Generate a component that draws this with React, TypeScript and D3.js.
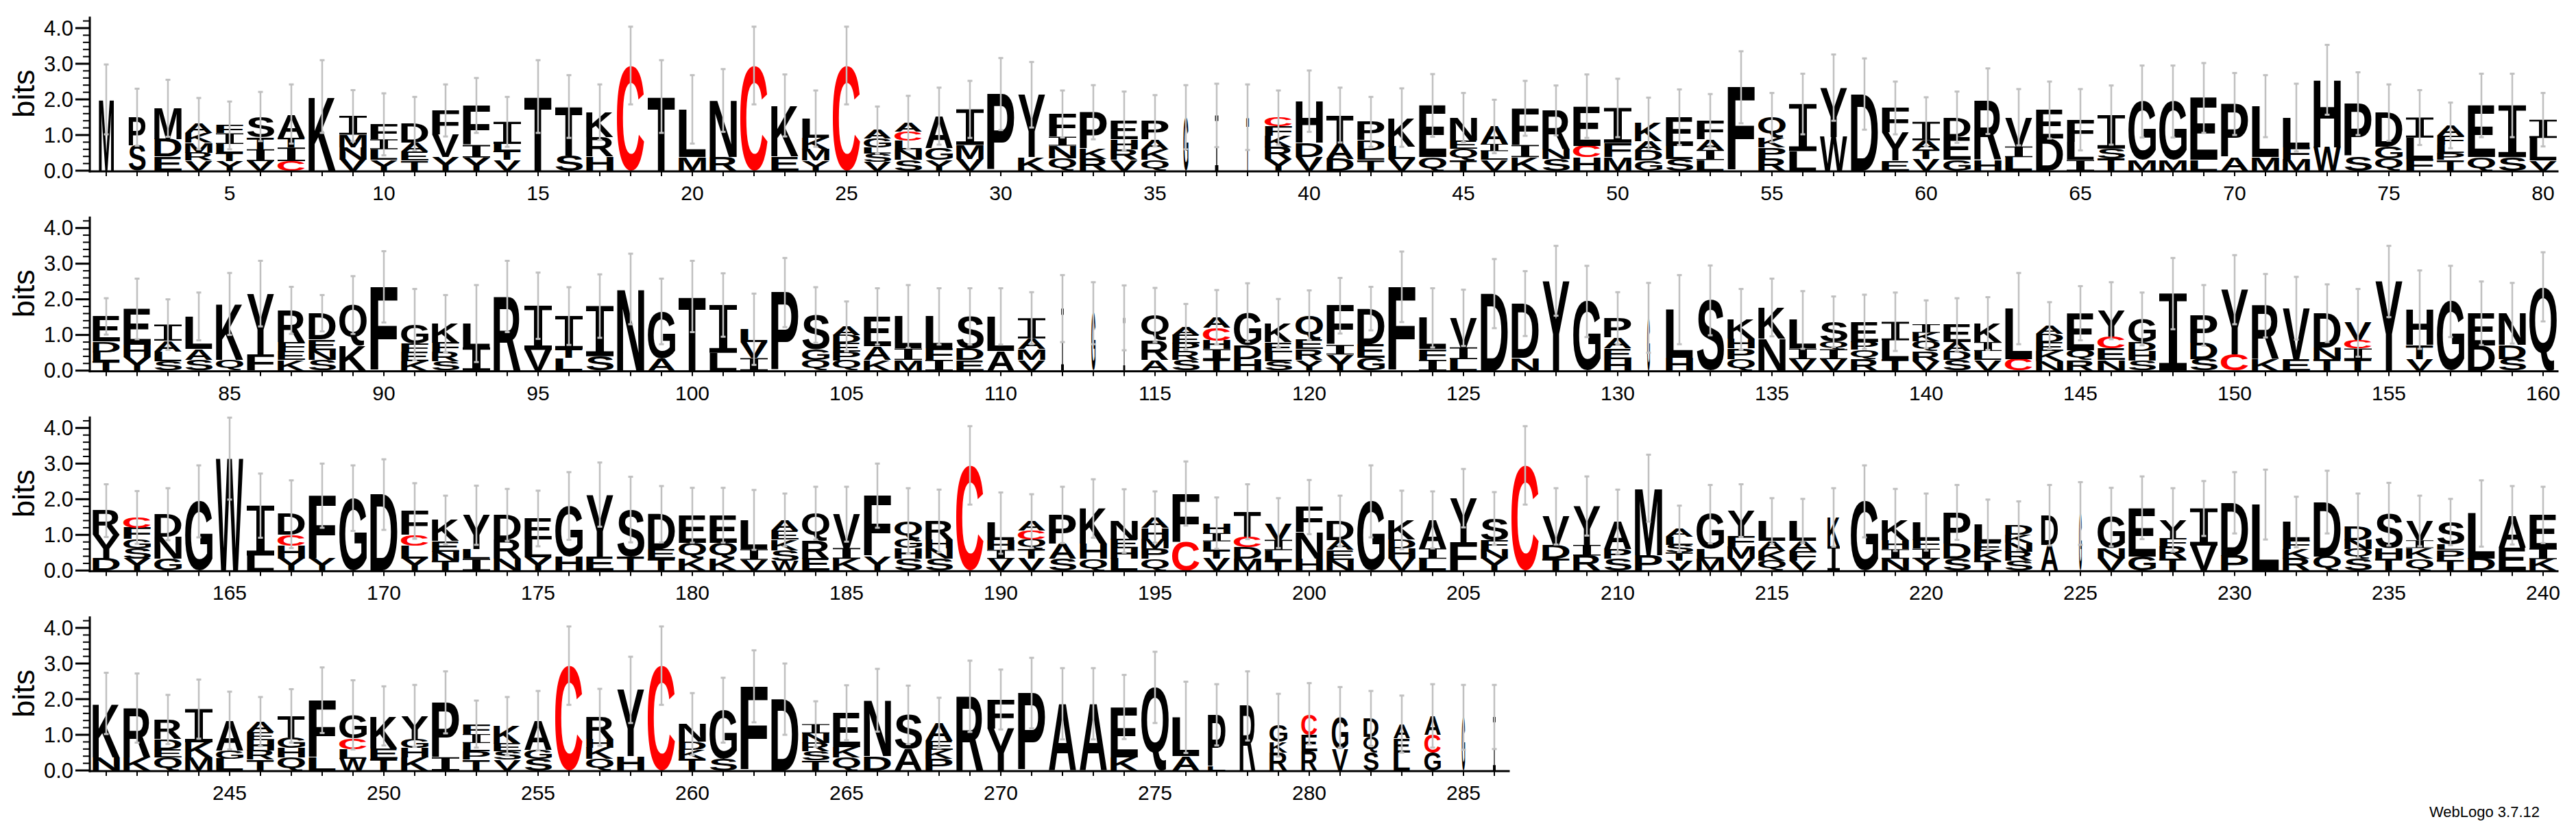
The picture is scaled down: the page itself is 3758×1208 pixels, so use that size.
import React, { useMemo } from "react";
import * as d3 from "d3";

// ---- data: stacks (bottom -> top, letter + bits) ----
const row1Stacks = [
"M2.0","S.7 P.8","E.4 D.48 M.87","V.28 R.22 M.28 K.27 A.27","Y.27 T.23 L.25 I.3 F.22",
"V.27 I.33 T.33 S.59","C.27 I.38 T.28 A.66","K2.08","V.31 N.35 M.35 I.53","Y.3 L.3 I.28 F.42",
"T.28 E.25 A.25 D.54","Y.38 V.63 F.68","Y.37 I.35 F1.11","V.3 T.25 L.2 I.62","T2.08",
"S.42 T1.38","H.4 R.55 K.69","C2.95","T2.08","M.38 L1.34",
"R.38 N1.59","C2.95","E.4 K1.43","Y.28 M.32 K.32 L.54","C2.95",
"V.25 S.23 L.17 G.25 A.24","S.3 N.3 L.25 C.25 A.25","Y.3 G.33 A.9","V.32 M.4 I1.0","P2.15",
"K.38 Y1.75","Q.35 N.35 I.25 F.64","R.33 K.29 P1.02","V.3 R.3 H.28 E.52","Q.3 K.3 A.28 P.52",
"G1.5","I1.55","T1.5","Y.32 R.34 K.32 F.27 C.24","V.38 D.4 H1.17",
"D.33 A.42 T.81","T.3 L.28 D.27 P.52","V.32 L.36 K.81","Q.38 E1.45","T.3 Q.32 E.23 N.64",
"V.3 L.25 I.2 A.49","K.38 I.34 F1.03","S.33 N.29 R1.07","H.38 C.32 E1.11","M.38 F.4 I.98",
"G.28 D.3 A.24 K.51","S.33 L.37 E.8","L.3 I.28 A.3 F.52","F2.34","R.35 P.3 K.28 Q.56",
"L.55 I1.32","W.95 Y1.38","D2.15","E.28 Y.78 F.7","V.32 T.28 A.25 I.52",
"G.3 E.65 D.55","H.3 R1.65","L.38 I.3 V.82","D.9 E.8","I.3 L.5 F.63",
"T.35 S.27 I.94","M.3 G1.64","M.3 G1.64","L.3 E1.74","A.38 P1.49",
"M.38 L1.43","M.33 F.33 L.83","W.66 H1.89","S.4 P1.48","Q.35 G.33 D.95",
"F.33 L.6 I.56","T.3 P.2 L.23 F.25 A.29","Q.38 E1.45","S.38 I1.45","V.28 L.64 I.51"
];
const row2Stacks = [
"T.26 L.26 D.3 E.7","Y.38 H.34 E1.01","S.26 L.28 A.3 I.45","S.3 A.3 L.92","Q.3 K1.57",
"F.45 Y1.71","K.3 E.25 F.25 R.89","S.3 N.27 E.3 D.74","K.7 Q1.14","F2.35",
"K.26 E.26 F.23 G.54","S.26 R.26 F.26 K.54","I.65 L.67","R2.08","V.58 I1.24",
"L.35 T.25 I.93","S.4 I1.41","N2.29","A.35 G1.31","T2.08",
"L.5 I1.34","I.35 V.45 L.36","P2.19","Q.3 G.3 S.96","Q.28 P.25 E.25 D.22 A.24",
"K.3 A.38 E.84","M.3 I.32 L.9","I.3 F.32 L.9","E.3 D.32 S.9","A.55 L.97",
"V.3 M.3 A.3 I.57","I1.74","G1.61","I1.48","A.3 R.55 Q.71",
"S.3 R.24 P.22 E.24 A.23","T.32 I.28 H.24 C.36 A.3","H.32 D.4 G.91","S.26 L.26 E.28 K.52","Y.3 R.3 E.27 Q.68",
"Y.45 I.27 F1.1","G.35 E.4 D.99","F2.35","I.3 F.3 L.88","L.32 I.33 V.83",
"D2.16","N.35 D1.53","Y2.52","G1.94","H.32 E.3 A.3 P.55",
"G1.48","H.36 L1.35","S1.97","Q.32 P.3 H.27 K.55","N.9 K.87",
"V.32 I.3 L.8","V.32 I.28 Q.22 S.55","R.32 Q.26 P.22 E.57","T.32 L.53 I.52","V.26 R.28 Q.28 K.24 I.24",
"S.3 D.25 A.25 E.49","V.3 L.25 I.25 K.52","C.32 L1.42","N.26 K.3 E.25 D.23 A.22","R.3 Q.28 E1.03",
"N.3 E.32 C.33 Y.73","S.28 H.28 D.24 G.65","I2.16","S.32 D.46 P.77","C.45 Y1.82",
"K.32 R1.5","E.32 V1.43","T.32 N.33 D.96","T.32 I.3 C.23 V.49","Y2.5",
"V.32 T.4 H.99","G1.94","D.7 E.91","S.32 D.4 N.89","Q2.35"
];
const row3Stacks = [
"D.33 Y.67 R.68","Y.33 S.29 G.26 F.32 C.29","G.33 N.62 D.63","G1.94","W3.14",
"L.42 I1.4","Y.33 H.37 C.3 D.58","Y.33 F1.77","G2.03","D2.13",
"Y.33 L.37 C.3 F.67","T.27 N.26 E.3 K.59","I.33 L.27 Y.95","N.33 R.55 D.68","Y.37 L.5 E.59",
"H.4 G1.41","E.4 Y1.73","T.4 S1.31","T.33 E.27 D.98","K.33 Q.45 E.77",
"K.33 Q.45 E.77","V.3 I.3 L.82","W.27 S.3 K.3 E.25 A.3","E.33 R.5 Q.78","K.33 I.3 V.95",
"Y.4 F1.7","S.33 H.3 G.25 Q.51","S.33 N.3 H.25 R.51","C2.95","V.33 I.25 H.27 L.48",
"V.33 T.27 Q.27 C.25 A.27","S.33 A.42 P.81","Q.33 H.42 K.99","L.33 H.29 E.26 N.51","Q.33 P.29 M.28 H.3 A.3",
"C.8 F1.36","V.33 T.22 L.27 I.23 H.28","M.33 D.32 C.3 T.7","T.27 L.3 I.29 V.47","H.33 N.74 F.71",
"N.3 E.28 A.27 D.54","G1.94","V.33 H.29 D.25 K.55","L.33 I.29 A.8","F.8 Y1.23",
"Y.33 N.27 F.25 S.61","C2.95","T.33 D.39 V.8","R.42 I.3 Y1.09","S.33 P.27 A.77",
"P.43 M1.88","V.27 T.23 S.22 L.23 A.22","M.33 L.27 G.98","V.33 M.34 F.3 Y.71","Q.27 K.28 A.28 L.56",
"V.27 F.28 A.28 L.56","I.68 K.81","G1.94","N.33 I.27 H.25 K.57","Y.33 I.28 F.25 L.5",
"S.33 D.42 P.88","T.27 K.28 E.25 L.49","S.27 R.26 N.25 K.22 D.26","A.72 D.83","G1.6",
"V.33 N.29 G.88","G.4 E1.36","T.33 R.33 F.24 Y.52","V.7 I1.04","P.42 D1.48",
"L1.85","R.33 K.27 F.25 L.51","Q.4 D1.52","S.33 Q.27 N.26 D.4","T.33 H.29 S.96",
"Q.33 K.3 I.22 V.54","T.3 P.28 L.14 S.64","D.33 L1.27","E.65 A.9","K.32 I.3 E.94"
];
const row4Stacks = [
"N.37 K1.51","K.37 R1.38","Q.37 E.23 D.28 R.55","M.37 K.42 I.93","L.33 G.22 A.85",
"T.3 R.26 H.29 E.22 A.3","Q.37 H.26 G.3 T.6","L.37 F1.6","W.33 L.27 C.3 G.66","T.33 E.29 K.91",
"K.37 H.26 G.26 Y.64","I.37 P1.54","T.3 P.23 L.24 I.25 F.28","V.3 S.23 E.22 K.49","S.33 G.25 A.82",
"C2.94","Q.33 K.31 H.24 R.61","H.4 Y1.86","C2.94","T.33 K.25 D.23 N.49",
"S.33 G1.36","F2.36","D2.0","T.28 S.25 R.24 N.27 I.26","Q.37 K.29 E.96",
"D.4 N1.57","A.6 S.96","P.33 K.25 E.25 A.5","R2.08","Y1.17 F.82",
"P2.17","A1.87","A1.87","K.37 E1.41","Q2.33",
"A.4 L1.09","L.12 P1.44","R1.81","R.5 K.3 G.47","R.53 E.47 C.59",
"V.6 G.89","S.5 Q.45 D.51","L.5 E.4 A.4","G.5 C.5 A.53","G1.49",
"I1.5"
];

// upper end of each error bar (bits)
const row1ErrTop = [2.98,2.3,2.55,2.04,1.94,2.21,2.42,3.1,2.26,2.17,2.07,2.42,2.6,2.07,3.1,2.68,2.42,4.04,3.1,2.68,2.85,4.04,2.7,2.25,4.04,1.8,2.1,2.33,2.52,3.16,3.05,2.25,2.4,2.22,2.12,2.4,2.44,2.42,2.25,2.81,2.33,2.07,2.31,2.71,2.18,1.99,2.52,2.39,2.7,2.58,2.05,2.28,2.15,3.35,2.18,2.72,3.26,3.15,2.5,2.06,2.22,2.87,2.29,2.5,2.29,2.39,2.95,2.95,3.02,2.74,2.68,2.44,3.53,2.76,2.42,2.26,1.91,2.72,2.72,2.18];
const row2ErrTop = [2.03,2.58,2.0,2.19,2.74,3.08,2.35,2.12,2.65,3.35,2.29,2.12,2.4,3.08,2.75,2.34,2.7,3.28,2.58,3.08,2.73,2.16,3.16,2.34,1.94,2.31,2.4,2.31,2.31,2.31,2.2,2.68,2.48,2.39,2.32,1.87,2.26,2.45,2.01,2.25,2.6,2.35,3.34,2.31,2.27,3.13,2.79,3.5,2.94,2.2,2.46,2.68,2.95,2.29,2.58,2.23,2.08,2.13,2.19,1.97,2.03,2.06,2.74,1.92,2.37,2.48,2.19,3.16,2.4,3.24,2.71,2.63,2.42,2.29,3.5,2.81,2.94,2.5,2.46,3.32];
const row3ErrTop = [2.42,2.23,2.31,2.95,4.29,2.72,2.53,3.0,2.95,3.12,2.45,2.1,2.38,2.29,2.24,2.76,3.03,2.63,2.37,2.32,2.32,2.26,2.16,2.35,2.35,3.0,2.31,2.27,4.05,2.19,2.14,2.35,2.56,2.28,2.22,3.06,2.05,2.42,2.03,2.54,2.1,2.95,2.24,2.22,2.85,2.2,4.05,2.31,2.64,2.27,3.25,1.82,2.4,2.42,2.03,2.01,2.31,2.95,2.29,2.16,2.4,1.99,1.94,2.4,2.48,2.32,2.64,2.31,2.51,2.76,2.83,2.07,2.8,2.16,2.46,2.1,2.01,2.53,2.37,2.35];
const row4ErrTop = [2.74,2.72,2.12,2.55,2.21,2.06,2.28,2.89,2.53,2.36,2.4,2.78,1.96,2.06,2.23,4.04,2.29,3.19,4.04,2.17,2.6,3.37,3.0,1.94,2.39,2.85,2.38,2.04,3.08,2.83,3.16,2.87,2.87,2.68,3.33,2.49,2.42,2.78,2.15,2.45,2.34,2.23,2.1,2.42,2.4,2.4];

// fraction of non-gap symbols (stack width), only where below 1
const lowOccupancy: [number, number][] = [
  [1, 0.55], [2, 0.62], [36, 0.18], [37, 0.12], [38, 0.1], [112, 0.1], [113, 0.15], [114, 0.07],
  [131, 0.1], [217, 0.45], [224, 0.62], [225, 0.1], [277, 0.65], [278, 0.58], [279, 0.65],
  [280, 0.58], [281, 0.6], [282, 0.55], [283, 0.6], [284, 0.6], [285, 0.12], [286, 0.1],
];

const yTickValues = d3.range(0, 4.3, 0.2);
const POS_PER_ROW = 80;
const BITS_MAX = Math.log2(20);

// ---- layout ----
const W = 3758, H = 1208;
const FIRST_BASE = 249, ROW_PITCH = 291.67, PX_PER_BIT = 52;
const AXIS_X = 131, COL_W = 45, LETTER_W = 40;
const FONT = "'Liberation Sans', Arial, Helvetica, sans-serif";

type Ink = { l: number; r: number; t: number; b: number };

function parseStack(s: string) {
  return s.trim().split(/\s+/).map((tok) => ({ letter: tok[0], bits: parseFloat(tok.slice(1)) }));
}

function measure(): Record<string, Ink> {
  const out: Record<string, Ink> = {};
  const cv = document.createElement("canvas");
  const ctx = cv.getContext("2d")!;
  ctx.font = `bold 100px ${FONT}`;
  for (const ch of "ACDEFGHIKLMNPQRSTVWY") {
    const m = ctx.measureText(ch);
    out[ch] = { l: -m.actualBoundingBoxLeft, r: m.actualBoundingBoxRight, t: -m.actualBoundingBoxAscent, b: m.actualBoundingBoxDescent };
  }
  return out;
}

function Letter({ ch, x, y, w, h, ink }: { ch: string; x: number; y: number; w: number; h: number; ink: Ink }) {
  const fill = ch === "C" ? "#ff0000" : "#000";
  if (h <= 0.05) return null;
  if (ch === "I") {
    const bar = Math.max(h * 0.1, 0.8);
    const stem = Math.max(w * 0.3, 0.8);
    const sx = x + (w - stem) / 2;
    const d = `M${x},${y}H${x + w}V${y + bar}H${sx + stem}V${y + h - bar}H${x + w}V${y + h}H${x}V${y + h - bar}H${sx}V${y + bar}H${x}Z`;
    return <path d={d} fill={fill} />;
  }
  const iw = ink.r - ink.l, ih = ink.b - ink.t;
  return (
    <text
      transform={`translate(${x},${y}) scale(${w / iw},${h / ih}) translate(${-ink.l},${-ink.t})`}
      fontFamily={FONT}
      fontWeight="bold"
      fontSize={100}
      fill={fill}
    >
      {ch}
    </text>
  );
}

export default function App() {
  const inks = useMemo(() => measure(), []);
  const rows = [row1Stacks, row2Stacks, row3Stacks, row4Stacks];
  const errs = [row1ErrTop, row2ErrTop, row3ErrTop, row4ErrTop];
  const occ = new Map(lowOccupancy);

  const xScale = d3.scaleLinear().domain([0.5, POS_PER_ROW + 0.5]).range([AXIS_X + 1.5, AXIS_X + 1.5 + POS_PER_ROW * COL_W]);
  const fmt = d3.format(".1f");

  return (
    <svg width={W} height={H} style={{ position: "absolute", left: 0, top: 0, background: "#fff" }}>
      <rect width={W} height={H} fill="#fff" />
      {rows.map((stacks, ri) => {
        const base = FIRST_BASE + ri * ROW_PITCH;
        const y = d3.scaleLinear().domain([0, BITS_MAX]).range([base, base - BITS_MAX * PX_PER_BIT]);
        const n = stacks.length;
        const xEnd = xScale(n + 0.5);
        return (
          <g key={ri}>
            {/* letters */}
            {stacks.map((s, ci) => {
              const pos = ri * POS_PER_ROW + ci + 1;
              const cx = xScale(ci + 1);
              const w = LETTER_W * (occ.get(pos) ?? 1);
              let acc = 0;
              return (
                <g key={ci}>
                  {parseStack(s).map((it, k) => {
                    const y0 = y(acc + it.bits), y1 = y(acc);
                    acc += it.bits;
                    return <Letter key={k} ch={it.letter} x={cx - w / 2} y={y0} w={w} h={y1 - y0} ink={inks[it.letter]} />;
                  })}
                </g>
              );
            })}
            {/* error bars */}
            {stacks.map((s, ci) => {
              const cx = xScale(ci + 1);
              const total = d3.sum(parseStack(s), (d) => d.bits);
              const top = errs[ri][ci];
              const low = Math.max(0, 2 * total - top);
              return (
                <g key={"e" + ci} fill="#c0c0c0" stroke="none">
                  <rect x={cx - 1.25} y={y(top)} width={2.5} height={y(low) - y(top)} />
                  <rect x={cx - 3.5} y={y(top) - 1.5} width={7} height={3} />
                  <rect x={cx - 3.5} y={y(low) - 1.5} width={7} height={3} />
                </g>
              );
            })}
            {/* y axis */}
            <rect x={AXIS_X - 1.5} y={y(BITS_MAX)} width={3} height={base - y(BITS_MAX) + 2.5} fill="#000" />
            {yTickValues.map((v, k) => {
              const major = Math.abs(v - Math.round(v)) < 1e-6;
              return (
                <g key={"t" + k}>
                  <rect x={major ? AXIS_X - 21 : AXIS_X - 10} y={y(v) - (major ? 1.5 : 1)} width={major ? 21 : 10} height={major ? 3 : 2} fill="#000" />
                  {major && (
                    <text x={AXIS_X - 24} y={y(v)} textAnchor="end" dominantBaseline="central" fontFamily={FONT} fontSize={31} fill="#000">
                      {fmt(v)}
                    </text>
                  )}
                </g>
              );
            })}
            <text transform={`translate(34,${(y(BITS_MAX) + base) / 2}) rotate(-90)`} textAnchor="middle" dominantBaseline="central" fontFamily={FONT} fontSize={45} fill="#000">
              bits
            </text>
            {/* x axis */}
            <rect x={AXIS_X - 1.5} y={base - 0.5} width={xEnd - AXIS_X + 1.5} height={3} fill="#000" />
            {stacks.map((_, ci) => {
              const pos = ri * POS_PER_ROW + ci + 1;
              const cx = xScale(ci + 1);
              return (
                <g key={"x" + ci}>
                  <rect x={cx - 1} y={base + 2} width={2} height={6} fill="#000" />
                  {pos % 5 === 0 && (
                    <text x={cx} y={base + 43} textAnchor="middle" fontFamily={FONT} fontSize={30} fill="#000">
                      {pos}
                    </text>
                  )}
                </g>
              );
            })}
          </g>
        );
      })}
      <text x={3705} y={1192} textAnchor="end" fontFamily={FONT} fontSize={22} fill="#000">
        WebLogo 3.7.12
      </text>
    </svg>
  );
}
